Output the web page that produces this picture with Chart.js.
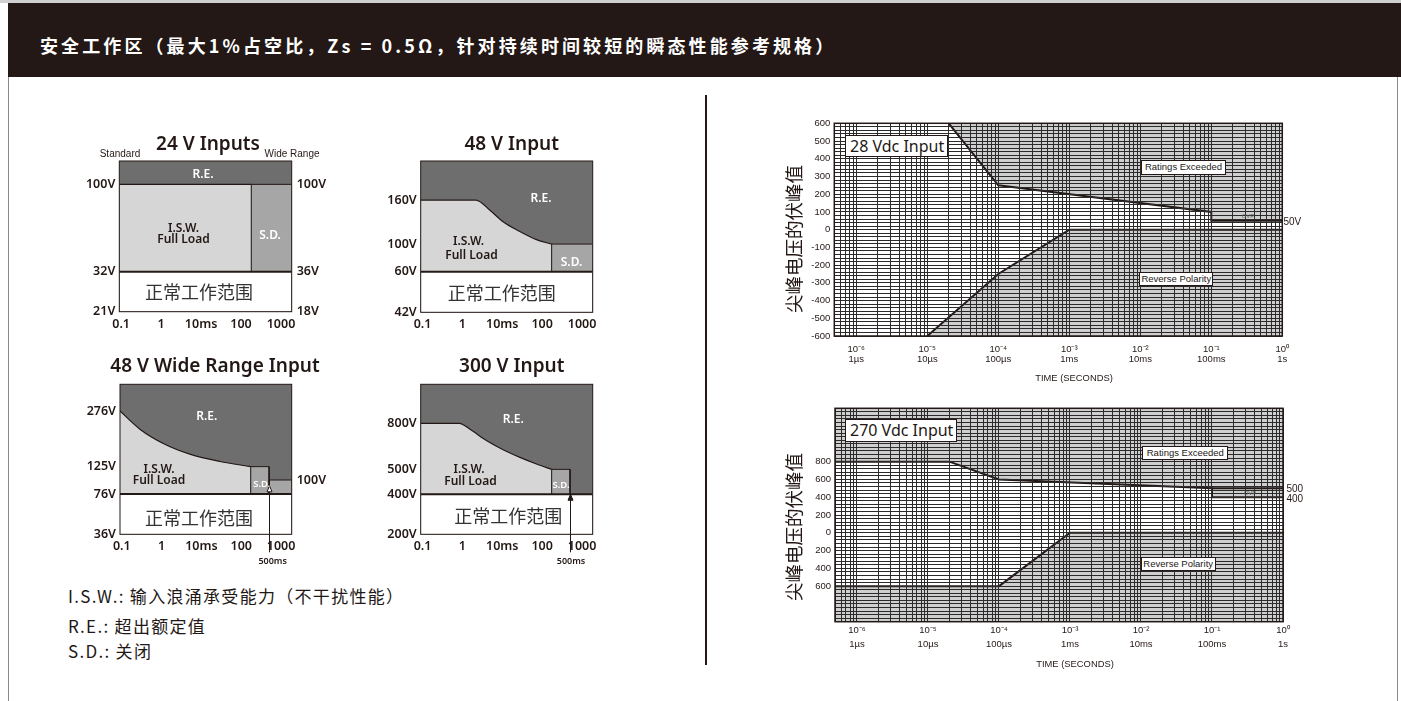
<!DOCTYPE html>
<html lang="zh-CN">
<head>
<meta charset="utf-8">
<title>安全工作区</title>
<script src="https://cdn.jsdelivr.net/npm/chart.js@4.4.1/dist/chart.umd.min.js"></script>
<style>
  html, body { margin: 0; padding: 0; background: #fff; }
  #page { position: relative; width: 1401px; height: 701px; overflow: hidden; background: #fff; color: #231815; }
  #topline { position: absolute; left: 0; top: 0; width: 1401px; height: 3px; background: #d0d0d0; }
  #header { position: absolute; left: 8px; top: 3px; width: 1393px; height: 74px; background: #231815; }
  #header span { position: absolute; left: 32px; top: 42px; transform: translateY(-50%); color: #fff; font: bold 18px "Noto Sans CJK SC", sans-serif; letter-spacing: 3.1px; white-space: nowrap; }
  .rule { position: absolute; background: #8a8a8a; }
  #divider { position: absolute; left: 705px; top: 95px; width: 2px; height: 570px; background: #231815; }
  canvas { position: absolute; }
  .t { position: absolute; white-space: nowrap; line-height: 1; transform: translate(-50%, -50%); }
  .mt { font: 600 19px "Noto Sans", sans-serif; color: #231815; }
  .sm { font: 10px "Liberation Sans", Arial, sans-serif; color: #231815; }
  .lb { font: 600 12px "Noto Sans", sans-serif; color: #231815; }
  .lbs { font: 600 9.5px "Noto Sans", sans-serif; color: #fff; }
  .w { color: #fff; }
  .cn { font: 18px "Noto Sans CJK SC", sans-serif; color: #333; }
  .ms { font: 600 9px "Noto Sans", sans-serif; color: #231815; }
  .box { position: absolute; box-sizing: border-box; border: 1px solid #231815; background: #fff; white-space: nowrap; }
  .bigbox { font: 16px "Noto Sans", sans-serif; color: #231815; padding-left: 4px; }
  .smbox { font: 9.5px "Liberation Sans", Arial, sans-serif; color: #231815; text-align: center; }
  .ax { font: 9.4px "Liberation Sans", Arial, sans-serif; color: #231815; }
  .vt { position: absolute; white-space: nowrap; line-height: 1; transform: translate(-50%, -50%) rotate(-90deg); font: 18.5px "Noto Sans CJK SC", sans-serif; color: #231815; }
  .rv { position: absolute; white-space: nowrap; line-height: 1; transform: translateY(-50%); font: 10px "Liberation Sans", Arial, sans-serif; color: #231815; }
  .ovp { font: 6px "Liberation Sans", Arial, sans-serif; color: #666; }
  .leg { position: absolute; white-space: nowrap; line-height: 1; transform: translateY(-50%); font: 17px "Noto Sans CJK SC", sans-serif; letter-spacing: 1.3px; color: #231815; }
</style>
</head>
<body>
<div id="page">
  <div id="topline"></div>
  <div id="header"><span>安全工作区（最大1%占空比，Zs = 0.5Ω，针对持续时间较短的瞬态性能参考规格）</span></div>
  <div class="rule" style="left:8px;top:77px;width:1px;height:624px;"></div>
  <div class="rule" style="left:1397px;top:77px;width:1px;height:624px;"></div>
  <div id="divider"></div>

  <canvas id="c24" width="290" height="200" style="left:55px;top:147px;"></canvas>
  <canvas id="c48" width="290" height="200" style="left:355px;top:147px;"></canvas>
  <canvas id="c48w" width="290" height="190" style="left:55px;top:370px;"></canvas>
  <canvas id="c300" width="290" height="190" style="left:355px;top:370px;"></canvas>
  <canvas id="c28v" width="580" height="285" style="left:760px;top:105px;"></canvas>
  <canvas id="c270v" width="580" height="285" style="left:760px;top:390px;"></canvas>

  <!-- 24 V Inputs -->
  <div class="t mt" style="left:208px;top:143px;">24 V Inputs</div>
  <div class="t sm" style="left:120px;top:153px;">Standard</div>
  <div class="t sm" style="left:292px;top:153px;">Wide Range</div>
  <div class="t lb w" style="left:203px;top:173px;">R.E.</div>
  <div class="t lb" style="left:183.5px;top:226.5px;">I.S.W.</div>
  <div class="t lb" style="left:183.5px;top:238px;">Full Load</div>
  <div class="t lb w" style="left:270px;top:233.5px;">S.D.</div>
  <div class="t cn" style="left:199px;top:291px;">正常工作范围</div>

  <!-- 48 V Input -->
  <div class="t mt" style="left:511.7px;top:143.3px;">48 V Input</div>
  <div class="t lb w" style="left:541px;top:197px;">R.E.</div>
  <div class="t lb" style="left:468.5px;top:240px;">I.S.W.</div>
  <div class="t lb" style="left:471.5px;top:254px;">Full Load</div>
  <div class="t lb w" style="left:571.5px;top:260.5px;">S.D.</div>
  <div class="t cn" style="left:501.7px;top:291.7px;">正常工作范围</div>

  <!-- 48 V Wide Range Input -->
  <div class="t mt" style="left:215px;top:365px;">48 V Wide Range Input</div>
  <div class="t lb w" style="left:206.7px;top:415px;">R.E.</div>
  <div class="t lb" style="left:159px;top:467.7px;">I.S.W.</div>
  <div class="t lb" style="left:159px;top:479.3px;">Full Load</div>
  <div class="t lbs" style="left:261.7px;top:482.7px;">S.D.</div>
  <div class="t cn" style="left:199px;top:516.7px;">正常工作范围</div>
  <div class="t ms" style="left:272.7px;top:560px;">500ms</div>

  <!-- 300 V Input -->
  <div class="t mt" style="left:511.7px;top:365px;">300 V Input</div>
  <div class="t lb w" style="left:513.3px;top:418.3px;">R.E.</div>
  <div class="t lb" style="left:469px;top:468.3px;">I.S.W.</div>
  <div class="t lb" style="left:470.5px;top:480px;">Full Load</div>
  <div class="t lbs" style="left:561px;top:484.3px;">S.D.</div>
  <div class="t cn" style="left:508.3px;top:515px;">正常工作范围</div>
  <div class="t ms" style="left:571px;top:560px;">500ms</div>

  <!-- legend notes -->
  <div class="leg" style="left:68px;top:595px;">I.S.W.: 输入浪涌承受能力（不干扰性能）</div>
  <div class="leg" style="left:68px;top:625px;">R.E.: 超出额定值</div>
  <div class="leg" style="left:68px;top:650px;">S.D.: 关闭</div>

  <!-- 28 Vdc -->
  <div class="vt" style="left:793px;top:239px;">尖峰电压的伏峰值</div>
  <div class="box bigbox" style="left:845px;top:135px;width:103px;height:22px;line-height:20px;">28 Vdc Input</div>
  <div class="box smbox" style="left:1141px;top:160px;width:85px;height:14.5px;line-height:12.5px;">Ratings Exceeded</div>
  <div class="box smbox" style="left:1139.3px;top:271.7px;width:74px;height:14px;line-height:12px;">Reverse Polarity</div>
  <div class="rv" style="left:1283.5px;top:220.7px;">50V</div>
  <div class="t ovp" style="left:1248px;top:215.5px;">OVP</div>
  <div class="t ax" style="left:1074px;top:376.7px;">TIME (SECONDS)</div>

  <!-- 270 Vdc -->
  <div class="vt" style="left:793px;top:527px;">尖峰电压的伏峰值</div>
  <div class="box bigbox" style="left:845px;top:419.3px;width:112px;height:22.5px;line-height:20.5px;">270 Vdc Input</div>
  <div class="box smbox" style="left:1142.3px;top:446px;width:86px;height:14px;line-height:12px;">Ratings Exceeded</div>
  <div class="box smbox" style="left:1140.7px;top:556.7px;width:75px;height:14px;line-height:12px;">Reverse Polarity</div>
  <div class="rv" style="left:1286.5px;top:488px;">500</div>
  <div class="rv" style="left:1286.5px;top:497.7px;">400</div>
  <div class="t ovp" style="left:1250px;top:493px;">OVP</div>
  <div class="t ax" style="left:1075px;top:663.3px;">TIME (SECONDS)</div>
</div>

<script>
// ================= DATA =================
// --- small SOA charts: time in ms, voltage in V ---
const MS_MIN = 0.09, MS_MAX = 1850;               // axis limits (ms)
const msTicks = [0.1, 1, 10, 100, 1000];
const msTickLabels = ['0.1', '1', '10ms', '100', '1000'];

// 24 V Inputs
const in24StdTicks = [21, 32, 100];                // Standard (left)
const in24WideTicks = [18, 36, 100];               // Wide Range (right)
const in24IswTime = [MS_MIN, 180];
const in24IswVolt = [100, 100];
const in24SdTime = [180, 180, MS_MAX];
const in24SdVolt = [32, 100, 100];
const in24Normal = 32;

// 48 V Input
const in48Ticks = [42, 60, 100, 160];
const in48IswTime = [MS_MIN, 2.2, 4.9, 10.7, 27.7, 72, 173];
const in48IswVolt = [160, 160, 146, 130, 117, 106, 100];
const in48SdTime = [173, 173, MS_MAX];
const in48SdVolt = [60, 100, 100];
const in48Normal = 60;

// 48 V Wide Range Input
const in48wTicks = [36, 76, 125, 276];
const in48wRightTicks = [100];
const in48wIswTime = [MS_MIN, 0.29, 1.1, 5.1, 29, 173];
const in48wIswVolt = [276, 226, 188, 159, 139, 125];
const in48wSdTime = [173, 173, 500, 500];
const in48wSdVolt = [76, 125, 125, 76];
const in48wTailTime = [500, 500, MS_MAX];
const in48wTailVolt = [76, 100, 100];
const in48wNormal = 76;

// 300 V Input
const in300Ticks = [200, 400, 500, 800];
const in300IswTime = [MS_MIN, 0.84, 1.55, 4.1, 10.8, 27.7, 72, 173];
const in300IswVolt = [800, 800, 761, 686, 626, 578, 535, 500];
const in300SdTime = [173, 173, 500, 500];
const in300SdVolt = [400, 500, 500, 400];
const in300Normal = 400;

// --- transient charts: time in seconds, voltage in V ---
const T_MIN = 4.9e-7, T_MAX = 1;
const timeDecades = [1e-6, 1e-5, 1e-4, 1e-3, 1e-2, 1e-1, 1];
const timeUnitLabels = ['1µs', '10µs', '100µs', '1ms', '10ms', '100ms', '1s'];

const v28Ticks = [-600, -500, -400, -300, -200, -100, 0, 100, 200, 300, 400, 500, 600];
const v28UpperTime = [2e-5, 1e-4, 1e-1, 1e-1, 1];
const v28UpperVolt = [600, 250, 100, 50, 50];
const v28LowerTime = [1e-5, 1e-4, 1e-3, 1];
const v28LowerVolt = [-600, -250, 0, 0];

const v270Ticks = [-600, -400, -200, 0, 200, 400, 600, 800];
const v270UpperTime = [T_MIN, 2e-5, 1e-4, 1e-1, 1e-1, 1];
const v270UpperVolt = [800, 800, 600, 500, 400, 400];
const v270OvpTime = [1e-1, 1];
const v270OvpVolt = [500, 500];
const v270LowerTime = [T_MIN, 1e-4, 1e-3, 1];
const v270LowerVolt = [-600, -600, 0, 0];

// ================= STYLE =================
const INK = '#231815';
const RE_GRAY = '#6e6e6e', ISW_GRAY = '#d6d6d6', SD_GRAY = '#a6a6a6', SHADE = '#cfcfcf', GRID = '#2b2b2b';
const MINI_FONT = { family: 'Noto Sans', size: 12.5, weight: '600' };

// Piecewise-linear value axis for the schematic SOA charts
class PiecewiseScale extends Chart.LinearScale {
  determineDataLimits() {
    const lv = this.options.levels;
    this.min = lv[0];
    this.max = lv[lv.length - 1];
  }
  buildTicks() {
    return this.options.tickValues.map(v => ({ value: v }));
  }
  _toFraction(v) {
    const L = this.options.levels, S = this.options.stops;
    if (v <= L[0]) return S[0];
    for (let i = 1; i < L.length; i++) {
      if (v <= L[i]) return S[i - 1] + (v - L[i - 1]) / (L[i] - L[i - 1]) * (S[i] - S[i - 1]);
    }
    return S[S.length - 1];
  }
  getPixelForValue(v) { return this.getPixelForDecimal(this._toFraction(v)); }
  getValueForPixel(p) {
    const d = this.getDecimalForPixel(p);
    const L = this.options.levels, S = this.options.stops;
    for (let i = 1; i < S.length; i++) {
      if (d <= S[i]) return L[i - 1] + (d - S[i - 1]) / (S[i] - S[i - 1]) * (L[i] - L[i - 1]);
    }
    return L[L.length - 1];
  }
}
PiecewiseScale.id = 'piecewise';
PiecewiseScale.defaults = {};
Chart.register(PiecewiseScale);

function series(times, volts) { return times.map((t, i) => ({ x: t, y: volts[i] })); }

const frame = {
  id: 'frame',
  afterDraw(chart, args, o) {
    const { ctx, chartArea: a } = chart;
    ctx.save();
    ctx.strokeStyle = INK;
    ctx.lineWidth = o.width || 1;
    ctx.strokeRect(a.left, a.top, a.right - a.left, a.bottom - a.top);
    ctx.restore();
  }
};
const reBackground = {
  id: 'reBackground',
  beforeDraw(chart, args, o) {
    if (!o.color) return;
    const { ctx, chartArea: a } = chart;
    ctx.save();
    ctx.fillStyle = o.color;
    ctx.fillRect(a.left, a.top, a.right - a.left, a.bottom - a.top);
    ctx.restore();
  }
};
const msArrow = {
  id: 'msArrow',
  afterDraw(chart, args, o) {
    if (!o.at) return;
    const { ctx } = chart;
    const x = Math.round(chart.scales.x.getPixelForValue(o.at)) + 0.5;
    const yTip = chart.scales.y.getPixelForValue(o.tip);
    const yEnd = chart.chartArea.bottom + o.tail;
    ctx.save();
    ctx.strokeStyle = INK;
    ctx.lineWidth = 1;
    ctx.beginPath();
    ctx.moveTo(x, yEnd);
    ctx.lineTo(x, yTip + 5);
    ctx.stroke();
    ctx.beginPath();
    ctx.moveTo(x, yTip);
    ctx.lineTo(x - 2.5, yTip + 6);
    ctx.lineTo(x + 2.5, yTip + 6);
    ctx.closePath();
    ctx.fillStyle = o.hollow ? '#fff' : INK;
    ctx.fill();
    ctx.stroke();
    ctx.restore();
  }
};

function padFor(canvasRect, plot, yW, y2W, xH) {
  return {
    left: plot.l - canvasRect.x - yW,
    right: canvasRect.x + canvasRect.w - plot.r - y2W,
    top: plot.t - canvasRect.y,
    bottom: canvasRect.y + canvasRect.h - plot.b - xH
  };
}

// ---------- small charts ----------
function buildMini(id, spec) {
  const scales = {
    x: {
      type: 'logarithmic', min: MS_MIN, max: MS_MAX,
      afterBuildTicks: s => { s.ticks = msTicks.map(v => ({ value: v })); },
      afterFit: s => { s.height = 22; },
      grid: { display: false, drawTicks: false }, border: { display: false },
      ticks: {
        autoSkip: false, maxRotation: 0, minRotation: 0, padding: 5, color: INK, font: MINI_FONT,
        callback: v => { const i = msTicks.indexOf(v); return i >= 0 ? msTickLabels[i] : ''; }
      }
    },
    y: {
      type: 'piecewise', position: 'left', levels: spec.levels, stops: spec.stops, tickValues: spec.ticks,
      afterFit: s => { s.width = 40; },
      grid: { display: false, drawTicks: false }, border: { display: false },
      ticks: { autoSkip: false, padding: 4, color: INK, font: MINI_FONT, callback: v => v + 'V' }
    }
  };
  let y2W = 0;
  if (spec.right) {
    y2W = 40;
    scales.y2 = {
      type: 'piecewise', position: 'right', levels: spec.right.levels, stops: spec.stops, tickValues: spec.right.ticks,
      afterFit: s => { s.width = 40; },
      grid: { display: false, drawTicks: false }, border: { display: false },
      ticks: { autoSkip: false, padding: 5, color: INK, font: MINI_FONT, callback: v => v + 'V' }
    };
  }
  const datasets = [
    { data: series([MS_MIN, MS_MAX], [spec.normal, spec.normal]), fill: 'start', backgroundColor: '#ffffff', borderColor: INK, borderWidth: 2 },
    { data: series(spec.iswTime, spec.iswVolt), fill: { value: spec.normal }, backgroundColor: ISW_GRAY, borderColor: INK, borderWidth: 1.2, cubicInterpolationMode: 'monotone' },
    { data: series(spec.sdTime, spec.sdVolt), fill: { value: spec.normal }, backgroundColor: SD_GRAY, borderColor: INK, borderWidth: 1 }
  ];
  if (spec.tailTime) {
    datasets.push({ data: series(spec.tailTime, spec.tailVolt), fill: { value: spec.normal }, backgroundColor: SD_GRAY, borderColor: INK, borderWidth: 1 });
  }
  return new Chart(document.getElementById(id), {
    type: 'line',
    data: { datasets },
    options: {
      responsive: false, animation: false, devicePixelRatio: 1, events: [],
      layout: { padding: padFor(spec.canvas, spec.plot, 40, y2W, 22) },
      elements: { point: { radius: 0 }, line: { tension: 0 } },
      scales,
      plugins: {
        legend: { display: false }, tooltip: { enabled: false },
        filler: { drawTime: 'beforeDatasetsDraw' },
        reBackground: { color: RE_GRAY },
        frame: { width: 1 },
        msArrow: spec.arrow || {}
      }
    },
    plugins: [reBackground, frame, msArrow]
  });
}

buildMini('c24', {
  canvas: { x: 55, y: 147, w: 290, h: 200 }, plot: { l: 119.3, t: 161, r: 291.7, b: 311.7 },
  levels: [21, 32, 100, 120], stops: [0, 0.265, 0.845, 1], ticks: in24StdTicks,
  right: { levels: [18, 36, 100, 120], ticks: in24WideTicks },
  normal: in24Normal, iswTime: in24IswTime, iswVolt: in24IswVolt, sdTime: in24SdTime, sdVolt: in24SdVolt
});
buildMini('c48', {
  canvas: { x: 355, y: 147, w: 290, h: 200 }, plot: { l: 420.7, t: 161, r: 592.7, b: 312.3 },
  levels: [42, 60, 100, 160, 200], stops: [0, 0.268, 0.451, 0.742, 1], ticks: in48Ticks,
  normal: in48Normal, iswTime: in48IswTime, iswVolt: in48IswVolt, sdTime: in48SdTime, sdVolt: in48SdVolt
});
buildMini('c48w', {
  canvas: { x: 55, y: 370, w: 290, h: 190 }, plot: { l: 120, t: 384.3, r: 291.7, b: 534.3 },
  levels: [36, 76, 100, 125, 276, 330], stops: [0, 0.269, 0.362, 0.451, 0.822, 1], ticks: in48wTicks,
  right: { levels: [36, 76, 100, 125, 276, 330], ticks: in48wRightTicks },
  normal: in48wNormal, iswTime: in48wIswTime, iswVolt: in48wIswVolt, sdTime: in48wSdTime, sdVolt: in48wSdVolt,
  tailTime: in48wTailTime, tailVolt: in48wTailVolt,
  arrow: { at: 500, tip: 90, tail: 18, hollow: true }
});
buildMini('c300', {
  canvas: { x: 355, y: 370, w: 290, h: 190 }, plot: { l: 420.7, t: 384.3, r: 592.7, b: 534.3 },
  levels: [200, 400, 500, 800, 1000], stops: [0, 0.267, 0.433, 0.74, 1], ticks: in300Ticks,
  normal: in300Normal, iswTime: in300IswTime, iswVolt: in300IswVolt, sdTime: in300SdTime, sdVolt: in300SdVolt,
  arrow: { at: 500, tip: 400, tail: 18, hollow: false }
});

// ---------- transient charts ----------
const SUP = { '-': '⁻', '0': '⁰', '1': '¹', '2': '²', '3': '³', '4': '⁴', '5': '⁵', '6': '⁶', '7': '⁷', '8': '⁸', '9': '⁹' };
function sup(n) { return String(n).split('').map(c => SUP[c]).join(''); }
function timeLabel(v) {
  const i = timeDecades.findIndex(d => Math.abs(v / d - 1) < 1e-6);
  if (i < 0) return '';
  return ['10' + sup(Math.round(Math.log10(timeDecades[i]))), timeUnitLabels[i]];
}
const timeGrid = [];
for (let e = -7; e <= 0; e++) {
  for (let m = 1; m <= 9; m++) {
    const v = m * Math.pow(10, e);
    if (v >= T_MIN * 0.999 && v <= T_MAX * 1.0001) timeGrid.push(v);
  }
}
function range(a, b, step) { const r = []; for (let v = a; v <= b; v += step) r.push(v); return r; }

function buildBig(id, spec) {
  return new Chart(document.getElementById(id), {
    type: 'line',
    data: { datasets: spec.datasets },
    options: {
      responsive: false, animation: false, devicePixelRatio: 1, events: [],
      layout: { padding: padFor(spec.canvas, spec.plot, 30, 0, spec.xHeight) },
      elements: { point: { radius: 0 }, line: { tension: 0 } },
      plugins: {
        legend: { display: false }, tooltip: { enabled: false },
        filler: { drawTime: 'beforeDatasetsDraw' },
        frame: { width: 1.5 }
      },
      scales: {
        x: {
          type: 'logarithmic', min: T_MIN, max: T_MAX,
          afterBuildTicks: s => { s.ticks = timeGrid.map(v => ({ value: v })); },
          afterFit: s => { s.height = spec.xHeight; },
          grid: { z: 1, color: GRID, lineWidth: 1, drawTicks: false },
          border: { display: false },
          ticks: {
            autoSkip: false, maxRotation: 0, minRotation: 0, padding: spec.xPad, color: INK,
            font: { family: 'Liberation Sans', size: 9.5, lineHeight: spec.xLine },
            callback: v => timeLabel(v)
          }
        },
        y: {
          type: 'linear', min: spec.yMin, max: spec.yMax,
          afterBuildTicks: s => { s.ticks = spec.yGrid.map(v => ({ value: v })); },
          afterFit: s => { s.width = 30; },
          grid: { z: 1, color: GRID, lineWidth: 1, drawTicks: false },
          border: { display: false },
          ticks: { autoSkip: false, padding: 4, color: INK, font: { family: 'Liberation Sans', size: 9.5 }, callback: spec.yLabel }
        }
      }
    },
    plugins: [frame]
  });
}

buildBig('c28v', {
  canvas: { x: 760, y: 105, w: 580, h: 285 }, plot: { l: 834.3, t: 123.3, r: 1282.3, b: 336 },
  xHeight: 46, xPad: 8, xLine: '10px',
  yMin: -600, yMax: 600, yGrid: range(-600, 600, 20),
  yLabel: v => v28Ticks.includes(v) ? String(v) : '',
  datasets: [
    { data: series(v28UpperTime, v28UpperVolt), fill: 'end', backgroundColor: SHADE, borderColor: INK, borderWidth: 2 },
    { data: series(v28LowerTime, v28LowerVolt), fill: 'start', backgroundColor: SHADE, borderColor: INK, borderWidth: 2 }
  ]
});
buildBig('c270v', {
  canvas: { x: 760, y: 390, w: 580, h: 285 }, plot: { l: 835, t: 408.3, r: 1283, b: 621.7 },
  xHeight: 47, xPad: 1, xLine: '14.7px',
  yMin: -1000, yMax: 1400, yGrid: range(-1000, 1400, 40),
  yLabel: v => v270Ticks.includes(v) ? String(Math.abs(v)) : '',
  datasets: [
    { data: series(v270OvpTime, v270OvpVolt), fill: false, borderColor: INK, borderWidth: 2 },
    { data: series(v270UpperTime, v270UpperVolt), fill: 'end', backgroundColor: SHADE, borderColor: INK, borderWidth: 2 },
    { data: series(v270LowerTime, v270LowerVolt), fill: 'start', backgroundColor: SHADE, borderColor: INK, borderWidth: 2 }
  ]
});
</script>
</body>
</html>
